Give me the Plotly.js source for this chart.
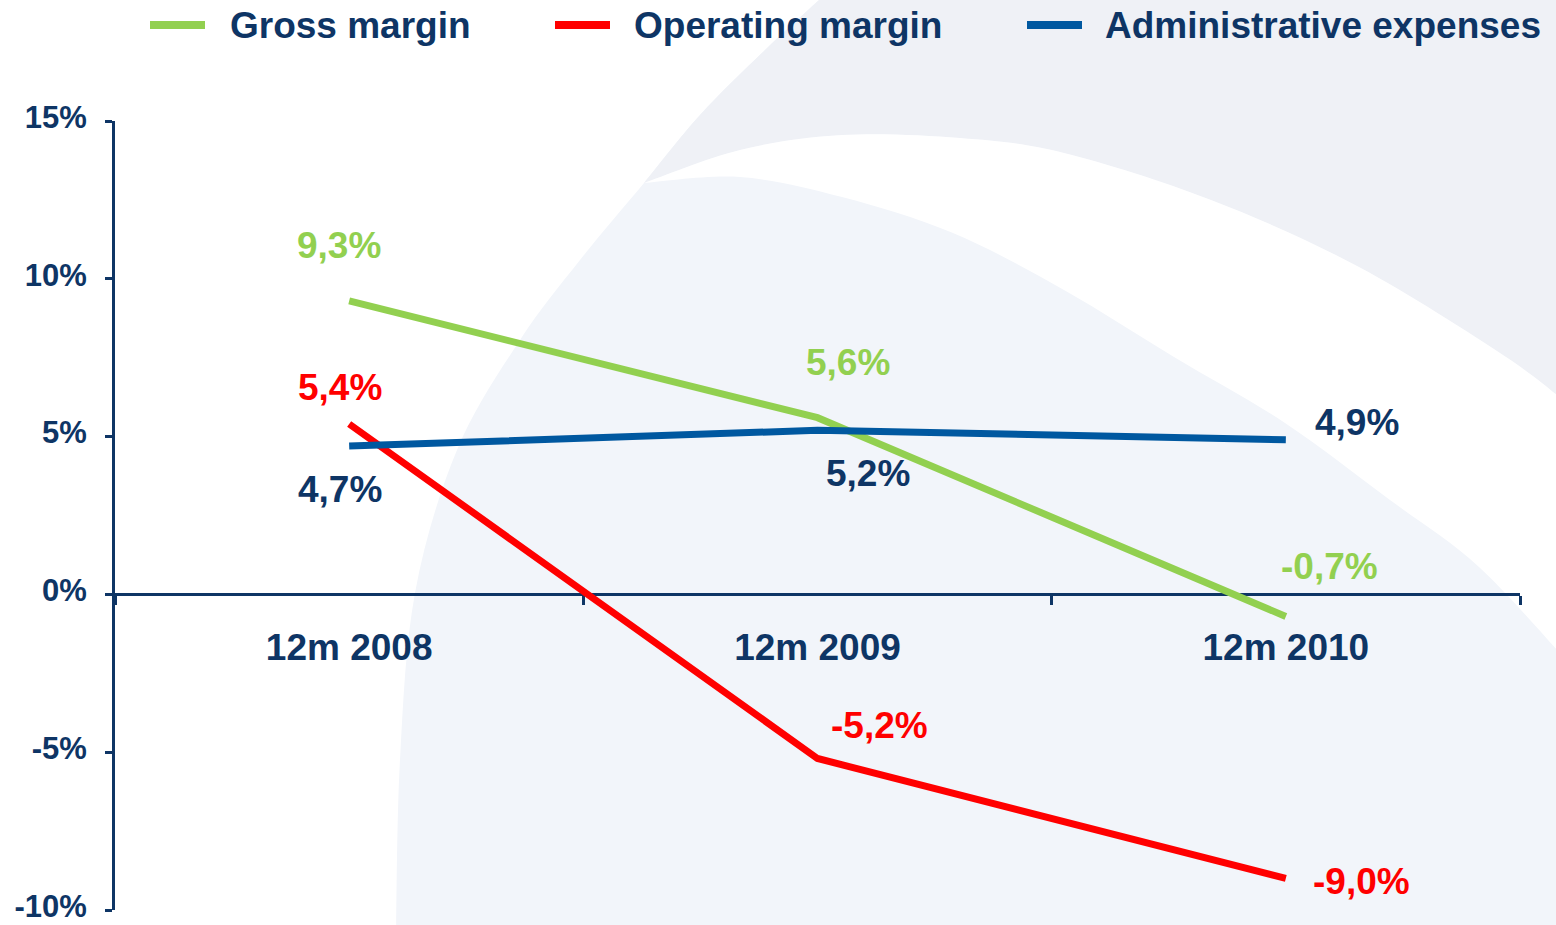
<!DOCTYPE html>
<html>
<head>
<meta charset="utf-8">
<script src="https://cdn.plot.ly/plotly-3.0.1.min.js"></script>
<style>html,body{margin:0;padding:0;background:#fff;}#chart{width:1556px;height:925px;}</style>
</head>
<body>
<div id="chart"></div>
<script>
// ---- data ----
const categories = ['12m 2008', '12m 2009', '12m 2010'];
const seriesNames = ['Gross margin', 'Operating margin', 'Administrative expenses'];
const grossMargin = [9.3, 5.6, -0.7];
const operatingMargin = [5.4, -5.2, -9.0];
const adminExpenses = [4.7, 5.2, 4.9];
const yTickVals = [-10, -5, 0, 5, 10, 15];
const yTickText = ['-10%', '-5%', '0%', '5%', '10%', '15%'];

// ---- styling ----
const NAVY = '#0e3565';
const FONT = '"Liberation Sans", Arial, sans-serif';
const lineColors = ['#92D050', '#FF0000', '#0058A0'];
const labelColors = ['#92D050', '#FF0000', NAVY];
const seriesValues = [grossMargin, operatingMargin, adminExpenses];
// label offsets in pixels [xshift, yshift] per series per point
const labelOffsets = [
  [[-10, 55], [30, 55], [44, 50]],
  [[-9, 36], [62, 33], [76, -3]],
  [[-9, -43], [50, -43], [71, 17]]
];

const W = 1556, H = 925;
const M = {l: 115, r: 36, t: 121, b: 15};
const pw = W - M.l - M.r, ph = H - M.t - M.b;
const px = v => (v - M.l) / pw;
const py = v => (H - M.b - v) / ph;

const fmt = v => v.toFixed(1).replace('.', ',') + '%';

const traces = seriesValues.map((vals, i) => ({
  type: 'scatter',
  mode: 'lines',
  name: seriesNames[i],
  x: categories,
  y: vals,
  line: {color: lineColors[i], width: 7},
  showlegend: false,
  hoverinfo: 'skip'
}));

const annotations = [];
seriesValues.forEach((vals, i) => {
  vals.forEach((v, j) => {
    annotations.push({
      x: categories[j], y: v, xref: 'x', yref: 'y',
      text: fmt(v), showarrow: false,
      xshift: labelOffsets[i][j][0], yshift: labelOffsets[i][j][1],
      font: {family: FONT, size: 37, color: labelColors[i], weight: 700}
    });
  });
});

// ---- decorative background (smooth paths, pixel guide points) ----
const P = (x, y) => `${px(x).toFixed(5)},${py(y).toFixed(5)}`;
function smooth(pts, start) {
  let d = start ? `M${P(pts[0][0], pts[0][1])}` : '';
  for (let i = 0; i < pts.length - 1; i++) {
    const p0 = pts[i - 1] || pts[i], p1 = pts[i], p2 = pts[i + 1], p3 = pts[i + 2] || pts[i + 1];
    const c1 = [p1[0] + (p2[0] - p0[0]) / 6, p1[1] + (p2[1] - p0[1]) / 6];
    const c2 = [p2[0] - (p3[0] - p1[0]) / 6, p2[1] - (p3[1] - p1[1]) / 6];
    d += ` C${P(c1[0], c1[1])} ${P(c2[0], c2[1])} ${P(p2[0], p2[1])}`;
  }
  return d;
}
const leftEdge = [[830, -10], [765, 50], [700, 115], [644, 183], [580, 260], [520, 340], [457, 450], [415, 593], [400, 760], [396, 935]];
const leftTop = [[830, -10], [765, 50], [700, 115], [644, 183]];
const swooshOuter = [[644, 183], [740, 150], [842, 135], [960, 138], [1064, 153], [1211, 200], [1359, 267], [1506, 357], [1575, 410]];
const swooshInner = [[1575, 670], [1479, 567], [1390, 500], [1285, 423], [1174, 357], [1064, 290], [953, 233], [842, 197], [740, 177], [644, 183]];

const bgShapes = [
  {type: 'path', xref: 'paper', yref: 'paper', layer: 'below',
   path: smooth(leftEdge, true) + ` L${P(1575, 935)} L${P(1575, -10)} Z`,
   fillcolor: '#f2f5fa', line: {width: 0}},
  {type: 'path', xref: 'paper', yref: 'paper', layer: 'below',
   path: smooth(leftTop, true) + smooth(swooshOuter, false) + ` L${P(1575, -10)} Z`,
   fillcolor: '#eff1f6', line: {width: 0}},
  {type: 'path', xref: 'paper', yref: 'paper', layer: 'below',
   path: smooth(swooshOuter, true) + ` L${P(1575, 670)}` + smooth(swooshInner, false) + ' Z',
   fillcolor: '#ffffff', line: {width: 0}}
];

// manual legend
const legendLineX = [[150, 205], [555, 610], [1027, 1082]];
const legendTextX = [230, 634, 1105];
const legendY = 25;
const shapes = bgShapes.slice();
seriesNames.forEach((n, i) => {
  shapes.push({type: 'line', xref: 'paper', yref: 'paper',
    x0: px(legendLineX[i][0]), x1: px(legendLineX[i][1]),
    y0: py(legendY), y1: py(legendY),
    line: {color: lineColors[i], width: 8}});
  annotations.push({xref: 'paper', yref: 'paper', x: px(legendTextX[i] - 2), y: py(legendY + 1),
    xanchor: 'left', yanchor: 'middle', showarrow: false, text: n,
    font: {family: FONT, size: 37, color: NAVY, weight: 700}});
});

const layout = {
  width: W, height: H,
  margin: M,
  paper_bgcolor: '#ffffff',
  plot_bgcolor: 'rgba(0,0,0,0)',
  font: {family: FONT, color: NAVY},
  showlegend: false,
  xaxis: {
    type: 'category', range: [-0.5, 2.5],
    anchor: 'free', position: 0.4,
    showline: true, linecolor: NAVY, linewidth: 3,
    ticks: 'outside', tickson: 'boundaries', ticklen: 9, tickwidth: 3, tickcolor: NAVY,
    showgrid: false, zeroline: false,
    layer: 'below traces',
    tickfont: {family: FONT, size: 37, color: NAVY, weight: 700},
    ticklabelstandoff: 19
  },
  yaxis: {
    range: [-10, 15],
    tickvals: yTickVals, ticktext: yTickText,
    showline: true, linecolor: NAVY, linewidth: 3,
    ticks: 'outside', ticklen: 7, tickwidth: 3, tickcolor: NAVY,
    showgrid: false, zeroline: false,
    tickfont: {family: FONT, size: 31, color: NAVY, weight: 700},
    ticklabelstandoff: 12,
    ticklabelshift: -4,
    ticklabeloverflow: 'allow'
  },
  shapes: shapes,
  annotations: annotations
};

Plotly.newPlot('chart', traces, layout, {displayModeBar: false, staticPlot: true});
</script>
</body>
</html>
